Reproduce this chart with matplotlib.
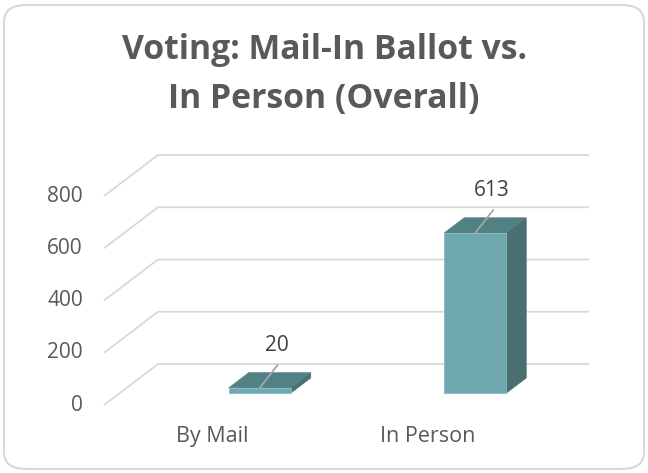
import matplotlib.pyplot as plt
from matplotlib.patches import Polygon, FancyBboxPatch

# Data
categories = ['By Mail', 'In Person']
votes = [20, 613]
y_ticks = [0, 200, 400, 600, 800]
title_lines = ['Voting: Mail-In Ballot vs.', 'In Person (Overall)']

FONT = 'Open Sans'
W, H = 648, 473

# pixel layout of the front plane (y=0 at 405px, 800 at 196px)
PX_PER_CAT = 215.5
PX_PER_VAL = (405 - 196) / 800.0
X_LEFT_PX = 104
Y_ZERO_PX = 405

# depth of the box (full depth) in data units
DX = 54 / PX_PER_CAT
DY = 41 / PX_PER_VAL

# bar placement
BAR_W = 62 / PX_PER_CAT
BAR_SHIFT = 0.15
BAR_D0 = 0.29
BAR_D1 = 0.66

fig = plt.figure(figsize=(W / 100, H / 100), dpi=100)
fig.patch.set_facecolor('white')

ax = fig.add_axes([0, 0, 1, 1])
x_min = -0.5 - X_LEFT_PX / PX_PER_CAT
x_max = -0.5 + (W - X_LEFT_PX) / PX_PER_CAT
y_min = -(H - Y_ZERO_PX) / PX_PER_VAL
y_max = Y_ZERO_PX / PX_PER_VAL
ax.set_xlim(x_min, x_max)
ax.set_ylim(y_min, y_max)
ax.axis('off')

n = len(categories)
grid_c = '#D9D9D9'

# gridlines: side wall diagonal + back wall
for v in y_ticks:
    xs = [-0.5, -0.5 + DX, n - 0.5 + DX]
    ys = [v, v + DY, v + DY]
    ax.plot(xs, ys, color=grid_c, lw=1.3, solid_capstyle='butt', zorder=1)
    ax.annotate(str(v), xy=(-0.5, v), xytext=(-21, 0), textcoords='offset pixels',
                ha='right', va='center', fontsize=15, color='#595959', family=FONT)

front_c = '#6FA9AF'
side_c = '#4A6F70'
top_c = '#518185'

for i, val in enumerate(votes):
    xc = i + BAR_SHIFT
    x0 = xc - BAR_W / 2
    x1 = xc + BAR_W / 2
    ox0, oy0 = BAR_D0 * DX, BAR_D0 * DY
    ox1, oy1 = BAR_D1 * DX, BAR_D1 * DY
    front = [(x0 + ox0, oy0), (x1 + ox0, oy0), (x1 + ox0, val + oy0), (x0 + ox0, val + oy0)]
    side = [(x1 + ox0, oy0), (x1 + ox1, oy1), (x1 + ox1, val + oy1), (x1 + ox0, val + oy0)]
    top = [(x0 + ox0, val + oy0), (x1 + ox0, val + oy0), (x1 + ox1, val + oy1), (x0 + ox1, val + oy1)]
    ax.add_patch(Polygon(side, closed=True, fc=side_c, ec=side_c, lw=0.5, zorder=3))
    ax.add_patch(Polygon(top, closed=True, fc=top_c, ec=top_c, lw=0.5, zorder=3))
    ax.add_patch(Polygon(front, closed=True, fc=front_c, ec='#86BBC0', lw=0.6, zorder=4))

    # leader line + data label
    tip = (xc + ox0, val + oy0)
    ax.annotate('', xy=tip, xytext=(18, 23), textcoords='offset pixels',
                arrowprops=dict(arrowstyle='-', color='#A6A6A6', lw=1.3,
                                shrinkA=0, shrinkB=0), zorder=5)
    ax.annotate(str(val), xy=tip, xytext=(17, 42), textcoords='offset pixels',
                ha='center', va='center', fontsize=15, color='#404040', family=FONT)

    # category label
    ax.annotate(categories[i], xy=(i, 0), xytext=(0, -37), textcoords='offset pixels',
                ha='center', va='baseline', fontsize=15.5, color='#595959', family=FONT)

# title
fig.text(0.5, 1 - 59 / H, title_lines[0], ha='center', va='baseline',
         fontsize=24.3, fontweight='bold', color='#595959', family=FONT)
fig.text(0.5, 1 - 108 / H, title_lines[1], ha='center', va='baseline',
         fontsize=24.3, fontweight='bold', color='#595959', family=FONT)

# rounded chart border
border = FancyBboxPatch((4 / W, 4 / H), (W - 8) / W, (H - 9) / H,
                        boxstyle='round,pad=0,rounding_size=0.035',
                        transform=fig.transFigure, fc='none', ec='#D9D9D9', lw=1.5)
fig.patches.append(border)

fig.savefig('out.png', dpi=100)
